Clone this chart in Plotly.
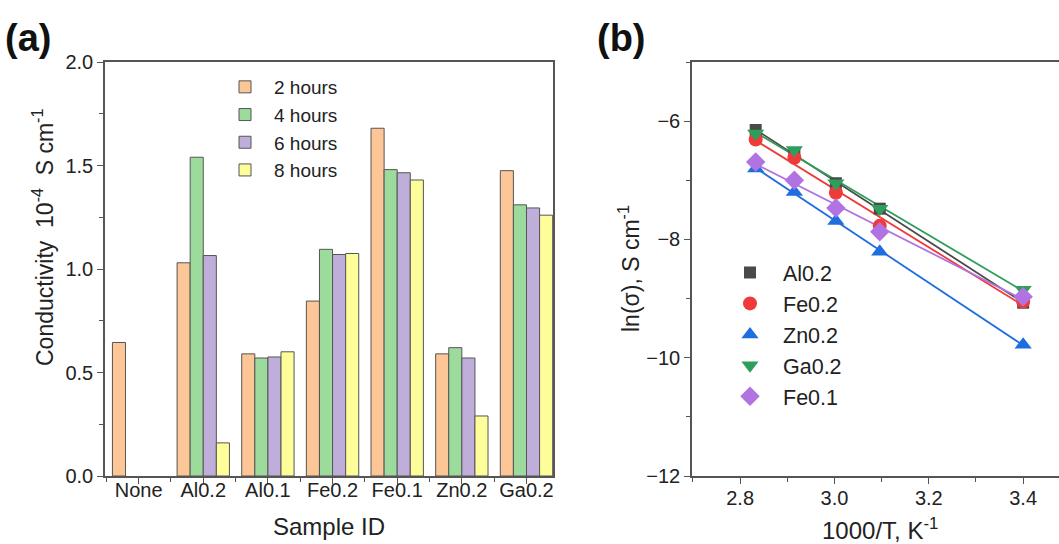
import numpy as np
import plotly.graph_objects as go

# ---------------- data ----------------
samples = ["None", "Al0.2", "Al0.1", "Fe0.2", "Fe0.1", "Zn0.2", "Ga0.2"]
hours_2 = [0.645, 1.03, 0.59, 0.845, 1.68, 0.59, 1.475]
hours_4 = [None, 1.54, 0.57, 1.095, 1.48, 0.62, 1.31]
hours_6 = [None, 1.065, 0.575, 1.07, 1.465, 0.57, 1.295]
hours_8 = [None, 0.16, 0.60, 1.075, 1.43, 0.29, 1.26]
bar_names = ["2 hours", "4 hours", "6 hours", "8 hours"]

inv_T = [2.833, 2.915, 3.003, 3.096, 3.40]
al02 = [-6.15, -6.55, -7.05, -7.48, -9.07]
fe02 = [-6.31, -6.62, -7.21, -7.77, -9.05]
zn02 = [-6.80, -7.20, -7.69, -8.21, -9.78]
ga02 = [-6.21, -6.49, -7.05, -7.48, -8.85]
fe01 = [-6.69, -7.00, -7.47, -7.87, -8.97]
series_names = ["Al0.2", "Fe0.2", "Zn0.2", "Ga0.2", "Fe0.1"]

# ---------------- styles ----------------
W, H = 1059, 544
FONT = "Arial, Liberation Sans, sans-serif"
bar_colors = ["#FDC697", "#9DDB9D", "#BFAEDA", "#FDFD99"]
sc_colors = ["#4A4A4A", "#F03A3A", "#1F6EE0", "#2E9E5C", "#B273E2"]
sc_symbols = ["square", "circle", "triangle-up", "triangle-down", "diamond"]
sc_sizes = [12, 14, 15, 15, 15]
AX = "#555555"

fig = go.Figure()

xpos = list(range(len(samples)))
for name, vals, col in zip(bar_names, [hours_2, hours_4, hours_6, hours_8], bar_colors):
    fig.add_trace(go.Bar(
        x=xpos, y=vals, name=name, marker=dict(color=col, line=dict(color="#555555", width=1)),
        xaxis="x", yaxis="y", legend="legend",
    ))

for name, vals, col, sym, sz in zip(series_names, [al02, fe02, zn02, ga02, fe01],
                                    sc_colors, sc_symbols, sc_sizes):
    k, b = np.polyfit(inv_T, vals, 1)
    xs = np.array([inv_T[0], inv_T[-1]])
    fig.add_trace(go.Scatter(
        x=xs, y=k * xs + b, mode="lines", line=dict(color=col, width=1.8),
        showlegend=False, xaxis="x2", yaxis="y2", hoverinfo="skip",
    ))
for name, vals, col, sym, sz in zip(series_names, [al02, fe02, zn02, ga02, fe01],
                                    sc_colors, sc_symbols, sc_sizes):
    fig.add_trace(go.Scatter(
        x=inv_T, y=vals, mode="markers", name=name,
        marker=dict(color=col, symbol=sym, size=sz, line=dict(width=0)),
        xaxis="x2", yaxis="y2", legend="legend2",
    ))

ydom = [(H - 476) / H, (H - 62) / H]
axis_common = dict(showline=True, linecolor=AX, linewidth=1.5, mirror=True,
                   ticks="outside", ticklen=6, tickwidth=1.3, tickcolor=AX,
                   showgrid=False, zeroline=False, automargin=False,
                   tickfont=dict(family=FONT, size=20, color="#222"))

fig.update_layout(
    template="none",
    width=W, height=H, autosize=False,
    margin=dict(l=0, r=0, t=0, b=0, pad=0),
    paper_bgcolor="white", plot_bgcolor="white",
    barmode="group", bargap=0.19, bargroupgap=0,
    font=dict(family=FONT, color="#222"),
    xaxis=dict(domain=[105 / W, 553 / W], range=[-0.52, 6.41],
               tickmode="array", tickvals=xpos, ticktext=samples,
               ticklabelstandoff=-11,
               minor=dict(ticks="outside", ticklen=4, tickcolor=AX, tick0=0.5, dtick=1),
               anchor="y", **axis_common),
    yaxis=dict(domain=ydom, range=[0, 2.0], dtick=0.5, tickformat=".1f",
               minor=dict(ticks="outside", ticklen=4, tickcolor=AX, dtick=0.25),
               anchor="x", **axis_common),
    xaxis2=dict(domain=[692 / W, 1.0], range=[2.698, 3.476], dtick=0.2, tick0=2.8,
                tickformat=".1f", ticklabelstandoff=-3,
                minor=dict(ticks="outside", ticklen=4, tickcolor=AX, dtick=0.1, tick0=2.8),
                anchor="y2", **axis_common),
    yaxis2=dict(domain=ydom, range=[-12, -5], dtick=2, tick0=-12,
                minor=dict(ticks="outside", ticklen=4, tickcolor=AX, dtick=1),
                anchor="x2", **axis_common),
    legend=dict(x=216 / W, y=1 - 68 / H, xanchor="left", yanchor="top",
                bgcolor="rgba(0,0,0,0)", font=dict(family=FONT, size=19, color="#222"),
                tracegroupgap=0, itemwidth=48),
    legend2=dict(x=717 / W, y=1 - 252 / H, xanchor="left", yanchor="top",
                 bgcolor="rgba(0,0,0,0)", font=dict(family=FONT, size=21.5, color="#222"),
                 itemwidth=56),
    showlegend=True,
    annotations=[
        dict(text="<b>(a)</b>", x=3 / W, y=1 - 38 / H, xref="paper", yref="paper",
             xanchor="left", yanchor="middle", showarrow=False,
             font=dict(family=FONT, size=38, color="#111")),
        dict(text="<b>(b)</b>", x=595 / W, y=1 - 38 / H, xref="paper", yref="paper",
             xanchor="left", yanchor="middle", showarrow=False,
             font=dict(family=FONT, size=38, color="#111")),
        dict(text="Conductivity  10<sup>-4</sup>  S cm<sup>-1</sup>", x=43 / W, y=1 - 238 / H,
             xref="paper", yref="paper", xanchor="center", yanchor="middle",
             textangle=-90, showarrow=False, font=dict(family=FONT, size=23, color="#222")),
        dict(text="Sample ID", x=329 / W, y=1 - 526 / H, xref="paper", yref="paper",
             xanchor="center", yanchor="middle", showarrow=False,
             font=dict(family=FONT, size=24, color="#222")),
        dict(text="ln(σ), S cm<sup>-1</sup>", x=629 / W, y=1 - 269 / H,
             xref="paper", yref="paper", xanchor="center", yanchor="middle",
             textangle=-90, showarrow=False, font=dict(family=FONT, size=23, color="#222")),
        dict(text="1000/T, K<sup>-1</sup>", x=880 / W, y=1 - 529 / H, xref="paper", yref="paper",
             xanchor="center", yanchor="middle", showarrow=False,
             font=dict(family=FONT, size=24, color="#222")),
    ],
)

fig.write_html("out.html", config={"displayModeBar": False},
               post_script="document.body.style.margin='0px';")
